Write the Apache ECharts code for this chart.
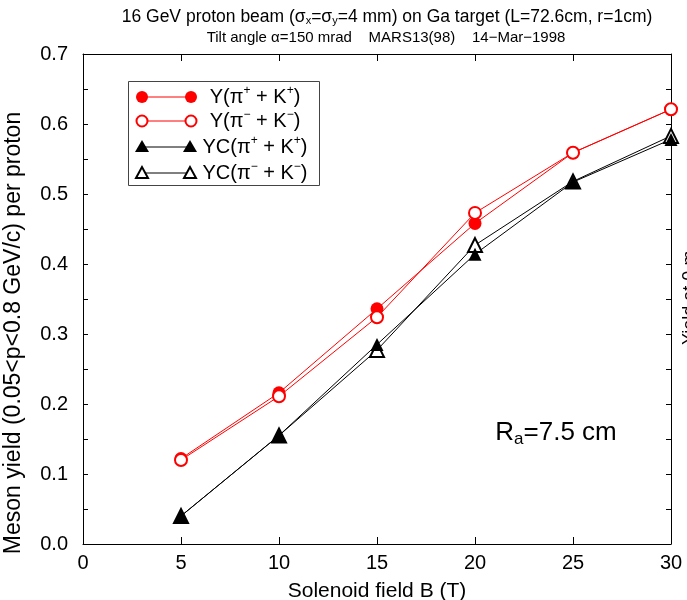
<!DOCTYPE html>
<html>
<head>
<meta charset="utf-8">
<script src="https://cdn.jsdelivr.net/npm/echarts@6/dist/echarts.min.js"></script>
<style>
  html, body { margin: 0; padding: 0; background: #fff; }
  #chart { width: 687px; height: 600px; }
</style>
</head>
<body>
<div id="chart"></div>
<script>
// solenoid field (T)
var fieldB = [5, 10, 15, 20, 25, 30];
// yields
var yPlus   = [0.122, 0.216, 0.336, 0.458, 0.559, 0.621];
var yMinus  = [0.120, 0.211, 0.324, 0.473, 0.559, 0.621];
var ycPlus  = [0.040, 0.155, 0.285, 0.414, 0.517, 0.578];
var ycMinus = [0.040, 0.155, 0.277, 0.427, 0.518, 0.583];
var xTicks = [0, 5, 10, 15, 20, 25, 30];
var yTicks = [0.0, 0.1, 0.2, 0.3, 0.4, 0.5, 0.6, 0.7];

var FONT = 'Liberation Sans, Arial, sans-serif';

function pairs(ys) {
    return fieldB.map(function (b, i) { return [b, ys[i]]; });
}

var myChart = echarts.init(document.getElementById('chart'));

var supRich = {
    n: { fontSize: 20, fontFamily: FONT, color: '#000' },
    s: { fontSize: 12, fontFamily: FONT, color: '#000', padding: [0, 0, 12, 0] }
};
function legText(y, txt) {
    return {
        type: 'text', x: 255, y: y,
        style: { text: txt, x: 0, y: 0, align: 'center', verticalAlign: 'middle', rich: supRich }
    };
}

var frameLine = { onZero: false, show: true, lineStyle: { color: '#000', width: 1 } };

var option = {
    animation: false,
    backgroundColor: '#fff',
    textStyle: { fontFamily: FONT },
    grid: { left: 83, right: 16, top: 54, bottom: 56, containLabel: false, outerBoundsMode: 'none' },
    xAxis: [{
        type: 'value', min: 0, max: 30, interval: 5,
        name: 'Solenoid field B (T)', nameLocation: 'middle', nameGap: 37,
        nameTextStyle: { fontSize: 21, color: '#000', fontFamily: FONT },
        axisLine: frameLine,
        axisTick: { inside: true, length: 7, lineStyle: { color: '#000' } },
        axisLabel: {
            fontSize: 20, color: '#000', margin: 9, fontFamily: FONT,
            formatter: function (v) { return xTicks.indexOf(v) >= 0 ? String(v) : ''; }
        },
        splitLine: { show: false }
    }, {
        type: 'value', position: 'top', min: 0, max: 30, interval: 5,
        axisLine: frameLine,
        axisTick: { inside: true, length: 7, lineStyle: { color: '#000' } },
        axisLabel: { show: false },
        splitLine: { show: false }
    }],
    yAxis: [{
        type: 'value', min: 0, max: 0.7, interval: 0.1,
        name: 'Meson yield (0.05<p<0.8 GeV/c) per proton', nameLocation: 'middle', nameGap: 58,
        nameTextStyle: { fontSize: 23, color: '#000', fontFamily: FONT, padding: [0, 68, 0, 0] },
        axisLine: frameLine,
        axisTick: { inside: true, length: 5, lineStyle: { color: '#000' } },
        minorTick: { show: true, splitNumber: 2, length: 5, lineStyle: { color: '#000' } },
        axisLabel: {
            fontSize: 20, color: '#000', margin: 15, fontFamily: FONT,
            formatter: function (v) {
                var t = yTicks.filter(function (k) { return Math.abs(k - v) < 1e-6; });
                return t.length ? t[0].toFixed(1) : '';
            }
        },
        splitLine: { show: false }
    }, {
        type: 'value', position: 'right', min: 0, max: 0.7, interval: 0.05,
        axisLine: frameLine,
        axisTick: { inside: true, length: 5, lineStyle: { color: '#000' } },
        axisLabel: { show: false },
        splitLine: { show: false }
    }],
    graphic: [
        {
            type: 'text', x: 387, y: 17,
            style: {
                text: '{n|16 GeV proton beam (σ}{b|x}{n|=σ}{b|y}{n|=4 mm) on Ga target (L=72.6cm, r=1cm)}',
                align: 'center', verticalAlign: 'middle',
                rich: {
                    n: { fontSize: 17.5, fontFamily: FONT, color: '#000' },
                    b: { fontSize: 11, fontFamily: FONT, color: '#000', padding: [8, 0, 0, 0] }
                }
            }
        },
        {
            type: 'text', x: 386, y: 38,
            style: {
                text: 'Tilt angle α=150 mrad    MARS13(98)    14−Mar−1998',
                align: 'center', verticalAlign: 'middle',
                fontSize: 15, fontFamily: FONT, fill: '#000'
            }
        },
        {
            type: 'text', x: 556, y: 433,
            style: {
                text: '{n|R}{b|a}{n|=7.5 cm}',
                align: 'center', verticalAlign: 'middle',
                rich: {
                    n: { fontSize: 26, fontFamily: FONT, color: '#1a1aff' },
                    b: { fontSize: 17, fontFamily: FONT, color: '#1a1aff', padding: [12, 0, 0, 0] }
                }
            }
        },
        {
            type: 'text', x: 690, y: 345, rotation: Math.PI / 2,
            style: {
                text: 'Yield at 0 m', align: 'left', verticalAlign: 'middle',
                fontSize: 18, fontFamily: FONT, fill: '#000'
            }
        },
        // legend box
        {
            type: 'rect', shape: { x: 128.5, y: 81.5, width: 191, height: 104 },
            style: { fill: 'none', stroke: '#444', lineWidth: 1 }
        },
        { type: 'line', shape: { x1: 142, y1: 97, x2: 191, y2: 97 }, style: { stroke: '#ff0000', lineWidth: 1 } },
        { type: 'circle', shape: { cx: 142, cy: 97, r: 6 }, style: { fill: '#ff0000' } },
        { type: 'circle', shape: { cx: 191, cy: 97, r: 6 }, style: { fill: '#ff0000' } },
        { type: 'line', shape: { x1: 142, y1: 121, x2: 191, y2: 121 }, style: { stroke: '#ff0000', lineWidth: 1 } },
        { type: 'circle', shape: { cx: 142, cy: 121, r: 5.5 }, style: { fill: '#fff', stroke: '#ff0000', lineWidth: 2 } },
        { type: 'circle', shape: { cx: 191, cy: 121, r: 5.5 }, style: { fill: '#fff', stroke: '#ff0000', lineWidth: 2 } },
        { type: 'line', shape: { x1: 142, y1: 147, x2: 190, y2: 147 }, style: { stroke: '#000', lineWidth: 1 } },
        { type: 'polygon', shape: { points: [[142, 140], [135, 152], [149, 152]] }, style: { fill: '#000' } },
        { type: 'polygon', shape: { points: [[190, 140], [183, 152], [197, 152]] }, style: { fill: '#000' } },
        { type: 'line', shape: { x1: 142, y1: 173, x2: 190, y2: 173 }, style: { stroke: '#000', lineWidth: 1 } },
        { type: 'polygon', shape: { points: [[142, 167], [136, 178], [148, 178]] }, style: { fill: '#fff', stroke: '#000', lineWidth: 2 } },
        { type: 'polygon', shape: { points: [[190, 167], [184, 178], [196, 178]] }, style: { fill: '#fff', stroke: '#000', lineWidth: 2 } },
        legText(97, '{n|Y(π}{s|+}{n| + K}{s|+}{n|)}'),
        legText(121, '{n|Y(π}{s|−}{n| + K}{s|−}{n|)}'),
        legText(147, '{n|YC(π}{s|+}{n| + K}{s|+}{n|)}'),
        legText(173, '{n|YC(π}{s|−}{n| + K}{s|−}{n|)}')
    ],
    series: [
        {
            name: 'YC(π- + K-)', type: 'line', data: pairs(ycMinus), clip: false,
            symbol: 'triangle', symbolSize: 14,
            lineStyle: { color: '#000', width: 1 },
            itemStyle: { color: '#fff', borderColor: '#000', borderWidth: 2 }
        },
        {
            name: 'YC(π+ + K+)', type: 'line', data: pairs(ycPlus), clip: false,
            symbol: 'triangle', symbolSize: 13,
            lineStyle: { color: '#000', width: 1 },
            itemStyle: { color: '#000' }
        },
        {
            name: 'Y(π+ + K+)', type: 'line', data: pairs(yPlus), clip: false,
            symbol: 'circle', symbolSize: 13,
            lineStyle: { color: '#ff0000', width: 1 },
            itemStyle: { color: '#ff0000' }
        },
        {
            name: 'Y(π- + K-)', type: 'line', data: pairs(yMinus), clip: false,
            symbol: 'circle', symbolSize: 12,
            lineStyle: { color: '#ff0000', width: 1 },
            itemStyle: { color: '#fff', borderColor: '#ff0000', borderWidth: 2 }
        }
    ]
};
myChart.setOption(option, true);
</script>
</body>
</html>
